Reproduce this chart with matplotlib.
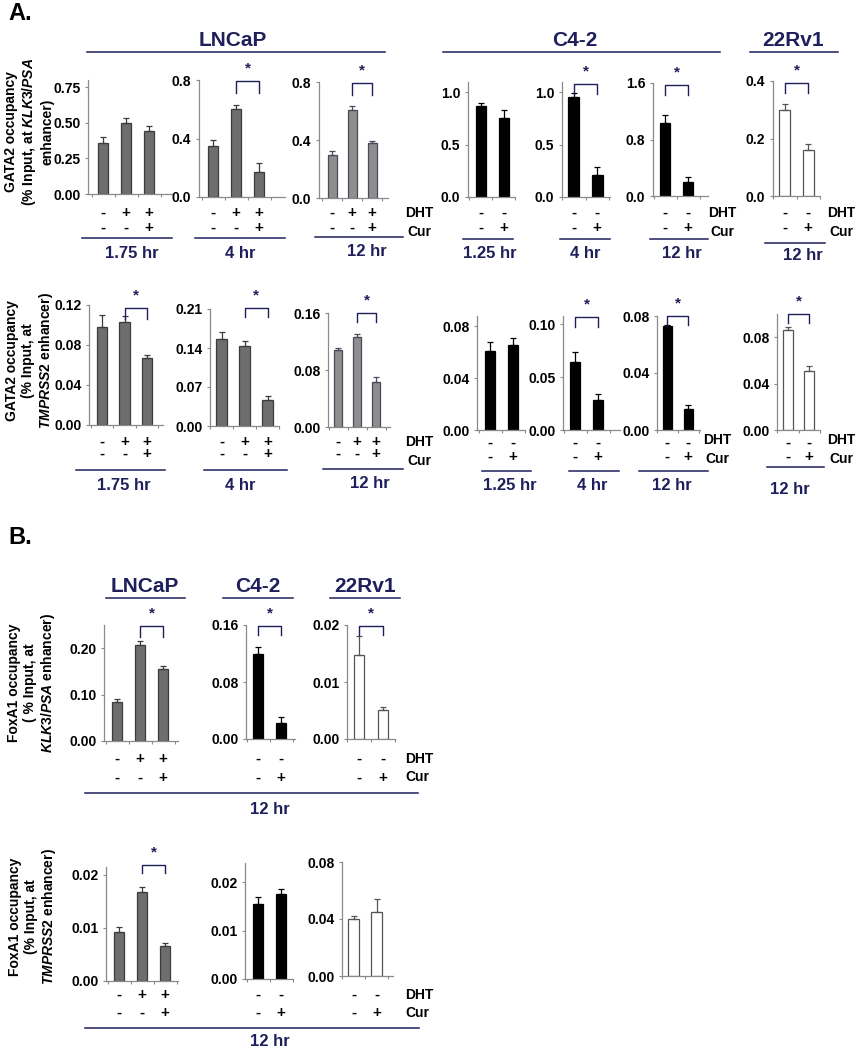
import numpy as np
import matplotlib.pyplot as plt
from matplotlib.lines import Line2D
from matplotlib.transforms import blended_transform_factory

plt.rcParams['font.family'] = ['Liberation Sans', 'DejaVu Sans']
plt.rcParams['font.weight'] = 'bold'
plt.rcParams['mathtext.fontset'] = 'custom'
plt.rcParams['mathtext.rm'] = 'Liberation Sans:bold'
plt.rcParams['mathtext.it'] = 'Liberation Sans:italic:bold'

# treatment signs
dht3 = ['-', '+', '+']
cur3 = ['-', '-', '+']
dht2 = ['-', '-']
cur2 = ['-', '+']

# A, GATA2 at KLK3/PSA enhancer
ga_klk_lncap_175 = [0.36, 0.50, 0.44]
ga_klk_lncap_175_err = [0.04, 0.03, 0.035]
ga_klk_lncap_4 = [0.35, 0.60, 0.17]
ga_klk_lncap_4_err = [0.04, 0.03, 0.06]
ga_klk_lncap_12 = [0.30, 0.61, 0.38]
ga_klk_lncap_12_err = [0.025, 0.025, 0.01]
ga_klk_c42_125 = [0.87, 0.76]
ga_klk_c42_125_err = [0.03, 0.07]
ga_klk_c42_4 = [0.96, 0.21]
ga_klk_c42_4_err = [0.03, 0.08]
ga_klk_c42_12 = [1.04, 0.20]
ga_klk_c42_12_err = [0.11, 0.07]
ga_klk_22rv1_12 = [0.30, 0.16]
ga_klk_22rv1_12_err = [0.02, 0.02]

# A, GATA2 at TMPRSS2 enhancer
ga_tmp_lncap_175 = [0.098, 0.103, 0.067]
ga_tmp_lncap_175_err = [0.012, 0.006, 0.003]
ga_tmp_lncap_4 = [0.156, 0.144, 0.047]
ga_tmp_lncap_4_err = [0.013, 0.009, 0.007]
ga_tmp_lncap_12 = [0.108, 0.127, 0.063]
ga_tmp_lncap_12_err = [0.003, 0.003, 0.007]
ga_tmp_c42_125 = [0.061, 0.066]
ga_tmp_c42_125_err = [0.007, 0.005]
ga_tmp_c42_4 = [0.064, 0.028]
ga_tmp_c42_4_err = [0.01, 0.006]
ga_tmp_c42_12 = [0.073, 0.015]
ga_tmp_c42_12_err = [0.001, 0.0025]
ga_tmp_22rv1_12 = [0.086, 0.051]
ga_tmp_22rv1_12_err = [0.003, 0.004]

# B, FoxA1, 12 hr
fx_klk_lncap = [0.083, 0.206, 0.156]
fx_klk_lncap_err = [0.008, 0.009, 0.005]
fx_klk_c42 = [0.119, 0.022]
fx_klk_c42_err = [0.010, 0.009]
fx_klk_22rv1 = [0.0147, 0.0051]
fx_klk_22rv1_err = [0.0034, 0.0006]
fx_tmp_lncap = [0.0092, 0.0168, 0.0066]
fx_tmp_lncap_err = [0.001, 0.0009, 0.0006]
fx_tmp_c42 = [0.0155, 0.0175]
fx_tmp_c42_err = [0.0014, 0.0012]
fx_tmp_22rv1 = [0.040, 0.045]
fx_tmp_22rv1_err = [0.002, 0.009]

W, H = 855, 1050
NAVY = '#1f1f5c'
DARK = ('#6e6e6e', '#3c3c3c')
LIGHT = ('#8e8e8e', '#4a4a5a')
BLACK = ('#000000', '#000000')
WHITE = ('#ffffff', '#555555')

fig = plt.figure(figsize=(W / 100, H / 100), dpi=100)


def fy(y):
    return 1 - y / H


def hline(x0, x1, y):
    fig.add_artist(Line2D([x0 / W, x1 / W], [fy(y), fy(y)], color=NAVY, lw=1.1))


def ftext(x, y, s, size, color='black', **kw):
    fig.text(x / W, fy(y), s, fontsize=size, color=color, fontweight='bold', **kw)


def panel(box, c0, step, vals, errs, ylim, yticks, fmt, colors, dht, cur, sign_y, sig=None):
    x0, y0, x1, y1 = box
    ax = fig.add_axes([x0 / W, fy(y1), (x1 - x0) / W, (y1 - y0) / H])
    n = len(vals)
    pos = np.arange(n)
    face, edge = colors
    ax.bar(pos, vals, width=0.45, color=face, edgecolor=edge, linewidth=0.9,
           yerr=[np.zeros(n), errs],
           error_kw=dict(ecolor=edge, elinewidth=0.9, capsize=2.2, capthick=0.9))
    ax.set_xlim((x0 - c0) / step, (x1 - c0) / step)
    ax.set_ylim(*ylim)
    ax.set_yticks(yticks)
    ax.set_yticklabels([fmt % t for t in yticks], fontsize=10, fontweight='bold')
    ax.set_xticks(np.arange(n + 1) - 0.5)
    ax.set_xticklabels([])
    for s in ['top', 'right']:
        ax.spines[s].set_visible(False)
    for s in ['left', 'bottom']:
        ax.spines[s].set_color('#8a8a8a')
        ax.spines[s].set_linewidth(0.9)
    ax.tick_params(axis='both', length=2.5, width=0.8, color='#8a8a8a', pad=3)
    trans = blended_transform_factory(ax.transData, fig.transFigure)
    for k in range(n):
        ax.text(pos[k], fy(sign_y[0]), dht[k], transform=trans, ha='center',
                va='center', fontsize=11, fontweight='bold')
        ax.text(pos[k], fy(sign_y[1]), cur[k], transform=trans, ha='center',
                va='center', fontsize=11, fontweight='bold')
    if sig is not None:
        i, j, top, bot = sig
        ax.plot([i, i, j, j], [bot, top, top, bot], color=NAVY, lw=1.0, clip_on=False)
        ax.annotate('*', xy=((i + j) / 2, top), xytext=(0, 4), textcoords='offset points',
                    ha='center', va='bottom', color=NAVY, fontsize=11, fontweight='bold',
                    annotation_clip=False)
    return ax


# ---------------- A ----------------
ftext(8, 14, 'A.', 17, va='center')

ftext(233, 50, 'LNCaP', 15, NAVY, ha='center', va='bottom')
hline(87, 385, 52)
ftext(575, 50, 'C4-2', 15, NAVY, ha='center', va='bottom')
hline(443, 720, 52)
ftext(793, 50, '22Rv1', 15, NAVY, ha='center', va='bottom')
hline(750, 838, 52)

ftext(29, 132, 'GATA2 occupancy\n(% Input, at $\\mathit{KLK3/PSA}$\nenhancer)', 10,
      rotation=90, ha='center', va='center', linespacing=1.2)

r1 = (213, 228)
panel((88, 80, 172, 194), 103, 23, ga_klk_lncap_175, ga_klk_lncap_175_err,
      (0, 0.8), [0, 0.25, 0.5, 0.75], '%.2f', DARK, dht3, cur3, r1)
panel((199, 80, 285, 197), 213, 23, ga_klk_lncap_4, ga_klk_lncap_4_err,
      (0, 0.8), [0, 0.4, 0.8], '%.1f', DARK, dht3, cur3, r1, (1, 2, 0.79, 0.71))
panel((319, 82, 388, 198), 332, 20, ga_klk_lncap_12, ga_klk_lncap_12_err,
      (0, 0.8), [0, 0.4, 0.8], '%.1f', LIGHT, dht3, cur3, r1, (1, 2, 0.79, 0.71))
panel((468, 82, 515, 197), 481, 23, ga_klk_c42_125, ga_klk_c42_125_err,
      (0, 1.1), [0, 0.5, 1.0], '%.1f', BLACK, dht2, cur2, r1)
panel((562, 82, 610, 197), 573, 24, ga_klk_c42_4, ga_klk_c42_4_err,
      (0, 1.1), [0, 0.5, 1.0], '%.1f', BLACK, dht2, cur2, r1, (0, 1, 1.085, 0.985))
panel((653, 83, 708, 196), 665, 23, ga_klk_c42_12, ga_klk_c42_12_err,
      (0, 1.6), [0, 0.8, 1.6], '%.1f', BLACK, dht2, cur2, r1, (0, 1, 1.57, 1.43))
panel((773, 81, 820, 196), 784, 24, ga_klk_22rv1_12, ga_klk_22rv1_12_err,
      (0, 0.4), [0, 0.2, 0.4], '%.1f', WHITE, dht2, cur2, r1, (0, 1, 0.394, 0.357))

for x in (405, 708, 827):
    ftext(x, 213, 'DHT', 10, va='center')
    ftext(x + 2, 232, 'Cur', 10, va='center')

for lbl, xc, x0, x1, yl, yt in [('1.75 hr', 132, 82, 172, 238, 254),
                                ('4 hr', 240, 195, 285, 238, 254),
                                ('12 hr', 367, 315, 403, 237, 252),
                                ('1.25 hr', 490, 463, 513, 239, 254),
                                ('4 hr', 585, 560, 610, 239, 254),
                                ('12 hr', 682, 650, 708, 239, 254),
                                ('12 hr', 803, 765, 825, 243, 256)]:
    hline(x0, x1, yl)
    ftext(xc, yt, lbl, 12, NAVY, ha='center', va='center')

# TMPRSS2 row
ftext(30, 361, 'GATA2 occupancy\n(% Input, at\n$\\mathit{TMPRSS2}$ enhancer)', 10,
      rotation=90, ha='center', va='center', linespacing=1.2)

r2 = (442, 454)
r2b = (443, 457)
panel((89, 305, 163, 425), 102, 22.5, ga_tmp_lncap_175, ga_tmp_lncap_175_err,
      (0, 0.12), [0, 0.04, 0.08, 0.12], '%.2f', DARK, dht3, cur3, r2, (1, 2, 0.117, 0.106))
panel((210, 309, 279, 426), 221, 24.5, ga_tmp_lncap_4, ga_tmp_lncap_4_err,
      (0, 0.21), [0, 0.07, 0.14, 0.21], '%.2f', DARK, dht3, cur3, r2, (1, 2, 0.212, 0.195))
panel((328, 313, 390, 427), 338, 19, ga_tmp_lncap_12, ga_tmp_lncap_12_err,
      (0, 0.16), [0, 0.08, 0.16], '%.2f', LIGHT, dht3, cur3, r2, (1, 2, 0.16, 0.148))
panel((477, 316, 525, 430), 490, 23, ga_tmp_c42_125, ga_tmp_c42_125_err,
      (0, 0.088), [0, 0.04, 0.08], '%.2f', BLACK, dht2, cur2, r2b)
panel((563, 316, 620, 430), 575, 23, ga_tmp_c42_4, ga_tmp_c42_4_err,
      (0, 0.108), [0, 0.05, 0.10], '%.2f', BLACK, dht2, cur2, r2b, (0, 1, 0.107, 0.098))
panel((657, 316, 700, 430), 664, 23, ga_tmp_c42_12, ga_tmp_c42_12_err,
      (0, 0.08), [0, 0.04, 0.08], '%.2f', BLACK, dht2, cur2, r2b, (0, 1, 0.08, 0.074))
panel((777, 314, 820, 430), 782, 28, ga_tmp_22rv1_12, ga_tmp_22rv1_12_err,
      (0, 0.10), [0, 0.04, 0.08], '%.2f', WHITE, dht2, cur2, r2b, (0, 1, 0.10, 0.092))

ftext(405, 442, 'DHT', 10, va='center')
ftext(407, 461, 'Cur', 10, va='center')
for x in (703, 827):
    ftext(x, 440, 'DHT', 10, va='center')
    ftext(x + 2, 459, 'Cur', 10, va='center')

for lbl, xc, x0, x1, yl, yt in [('1.75 hr', 124, 76, 165, 470, 485),
                                ('4 hr', 240, 204, 287, 470, 485),
                                ('12 hr', 370, 323, 403, 469, 484),
                                ('1.25 hr', 510, 482, 531, 471, 486),
                                ('4 hr', 592, 569, 619, 471, 486),
                                ('12 hr', 672, 639, 708, 471, 486),
                                ('12 hr', 790, 767, 824, 467, 490)]:
    hline(x0, x1, yl)
    ftext(xc, yt, lbl, 12, NAVY, ha='center', va='center')

# ---------------- B ----------------
ftext(8, 538, 'B.', 17, va='center')
for lbl, xc, x0, x1 in [('LNCaP', 145, 106, 185), ('C4-2', 258, 223, 293),
                        ('22Rv1', 365, 330, 400)]:
    ftext(xc, 596, lbl, 15, NAVY, ha='center', va='bottom')
    hline(x0, x1, 598)

ftext(32, 683, 'FoxA1 occupancy\n( % Input, at\n$\\mathit{KLK3/PSA}$ enhancer)', 10,
      rotation=90, ha='center', va='center', linespacing=1.2)
ftext(33, 917, 'FoxA1 occupancy\n(% Input, at\n$\\mathit{TMPRSS2}$ enhancer)', 10,
      rotation=90, ha='center', va='center', linespacing=1.2)

b1 = (759, 778)
panel((104, 625, 178, 741), 117, 23, fx_klk_lncap, fx_klk_lncap_err,
      (0, 0.25), [0, 0.1, 0.2], '%.2f', DARK, dht3, cur3, b1, (1, 2, 0.247, 0.225))
panel((246, 625, 295, 739), 258, 23, fx_klk_c42, fx_klk_c42_err,
      (0, 0.16), [0, 0.08, 0.16], '%.2f', BLACK, dht2, cur2, b1, (0, 1, 0.159, 0.146))
panel((347, 625, 395, 739), 354, 28, fx_klk_22rv1, fx_klk_22rv1_err,
      (0, 0.02), [0, 0.01, 0.02], '%.2f', WHITE, dht2, cur2, b1, (0, 1, 0.0198, 0.0183))

b2 = (995, 1013)
panel((106, 867, 178, 981), 119, 23, fx_tmp_lncap, fx_tmp_lncap_err,
      (0, 0.0215), [0, 0.01, 0.02], '%.2f', DARK, dht3, cur3, b2, (1, 2, 0.0219, 0.0203))
panel((245, 863, 293, 979), 258, 23, fx_tmp_c42, fx_tmp_c42_err,
      (0, 0.024), [0, 0.01, 0.02], '%.2f', BLACK, dht2, cur2, b2)
panel((342, 862, 393, 976), 352, 24, fx_tmp_22rv1, fx_tmp_22rv1_err,
      (0, 0.08), [0, 0.04, 0.08], '%.2f', WHITE, dht2, cur2, b2)

for yd, yc in [(759, 777), (995, 1013)]:
    ftext(405, yd, 'DHT', 10, va='center')
    ftext(405, yc, 'Cur', 10, va='center')

hline(85, 418, 793)
ftext(270, 810, '12 hr', 12, NAVY, ha='center', va='center')
hline(85, 419, 1028)
ftext(270, 1042, '12 hr', 12, NAVY, ha='center', va='center')

fig.savefig('out.png', dpi=100)
